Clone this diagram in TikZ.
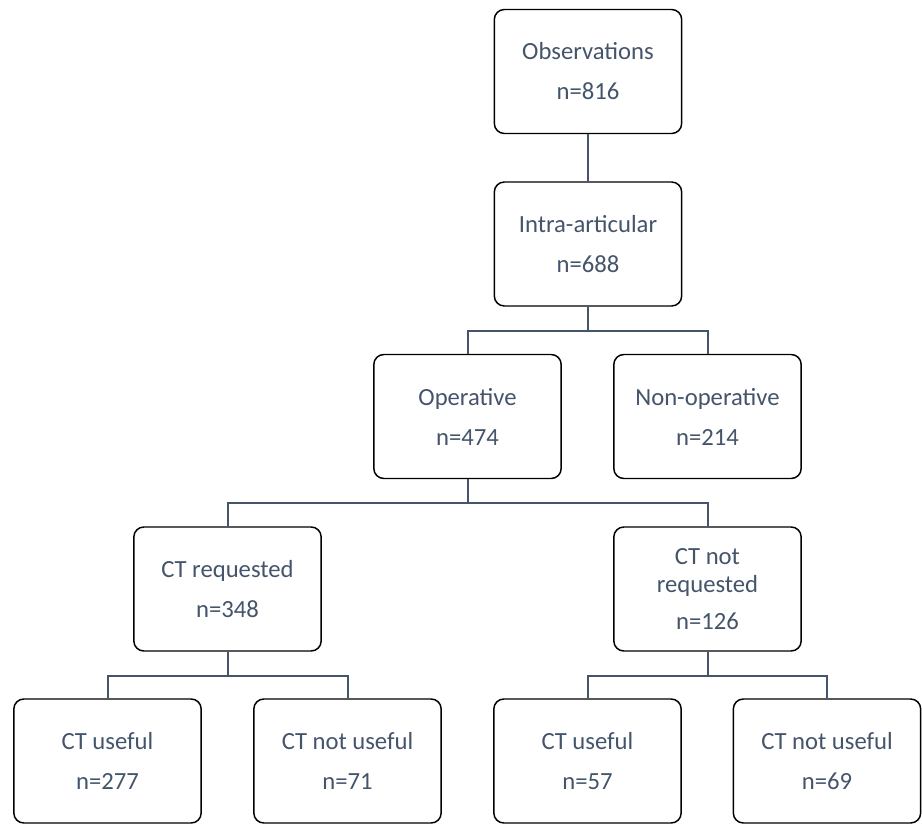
\documentclass[tikz,border=0pt]{standalone}
\usepackage{fontspec}
\setmainfont{Carlito}
\usepackage{tikz}
\usetikzlibrary{positioning}

\definecolor{slate}{HTML}{44546A}

\begin{document}
\begin{tikzpicture}[
  x=0.75pt, y=-0.75pt,
  font=\fontsize{18.5pt}{30pt}\selectfont,
  box/.style={
    rectangle, rounded corners=7.5pt,
    draw=black, line width=1.1pt, align=center,
    text=slate, inner sep=0pt,
    minimum width=140.5pt,
    minimum height=93pt
  },
  link/.style={draw=slate, line width=1.5pt},
]
\useasboundingbox (0,0) rectangle (922,824);

% --- Top ---
\node[box] (OBS) at (588,71.5) {Observations\\ n=816};
\node[box] (INTRA) at (588,244) {Intra-articular\\ n=688};

% --- Treatment ---
\node[box] (OP) at (467.5,416.5) {Operative\\ n=474};
\node[box] (NONOP) at (707.5,416.5) {Non-operative\\ n=214};

% --- CT ---
\node[box] (CTREQ) at (227.5,589) {CT requested\\ n=348};
\node[box, font=\fontsize{18.5pt}{21pt}\selectfont] (CTNOREQ) at (707.5,589)
  {CT not\\ requested\\[6.5pt] n=126};

% --- Usefulness ---
\node[box] (U1) at (107.5,761) {CT useful\\ n=277};
\node[box] (NU1) at (347.5,761) {CT not useful\\ n=71};
\node[box] (U2) at (587.5,761) {CT useful\\ n=57};
\node[box] (NU2) at (827,761) {CT not useful\\ n=69};

% --- Connectors ---
\draw[link] (OBS) -- (INTRA);

\draw[link] (INTRA.south) -- ++(0,24) -| (OP.north);
\draw[link] (INTRA.south) -- ++(0,24) -| (NONOP.north);

\draw[link] (OP.south) -- ++(0,24) -| (CTREQ.north);
\draw[link] (OP.south) -- ++(0,24) -| (CTNOREQ.north);

\draw[link] (CTREQ.south) -- ++(0,24.5) -| (U1.north);
\draw[link] (CTREQ.south) -- ++(0,24.5) -| (NU1.north);

\draw[link] (CTNOREQ.south) -- ++(0,24.5) -| (U2.north);
\draw[link] (CTNOREQ.south) -- ++(0,24.5) -| (NU2.north);

\end{tikzpicture}
\end{document}
